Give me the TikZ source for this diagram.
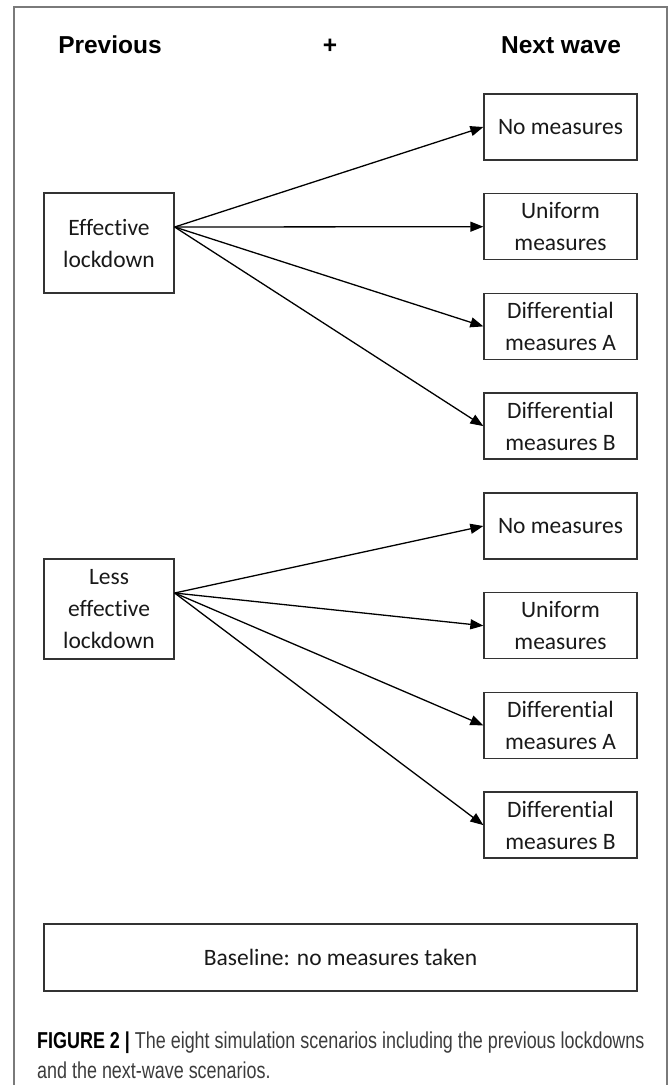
\documentclass[tikz,border=0pt]{standalone}
\usepackage{fontspec}
\setmainfont{Carlito}[Ligatures=NoCommon]
\newfontfamily\headfont{Liberation Sans}
\newfontfamily\capfont[FakeStretch=0.78]{Liberation Sans}
\usepackage{xcolor}
\usetikzlibrary{positioning, arrows.meta}
\definecolor{boxline}{HTML}{333333}
\definecolor{framegray}{HTML}{7A7A7A}
\definecolor{captext}{HTML}{3C3C3C}

\begin{document}
\begin{tikzpicture}[x=1pt, y=-1pt,
    box/.style={draw=boxline, line width=1.3pt, align=center, inner sep=0pt,
      font=\fontsize{23.5}{32}\selectfont, text=black!90},
    wavebox/.style={box, minimum width=153pt, minimum height=66pt},
    lockbox/.style={box, minimum width=130pt, minimum height=100pt},
    head/.style={font=\headfont\bfseries\fontsize{24.5}{28}\selectfont, anchor=base},
    arr/.style={-{Triangle[length=13pt, width=10pt]}, line width=1.3pt},
    caption/.style={font=\capfont\fontsize{23}{30}\selectfont, text=captext,
      anchor=base west, inner sep=0pt}]
        \useasboundingbox (0,0) rectangle (669,1085);
        \draw[framegray, line width=1.3pt] (14,1085) -- (14,7) -- (667,7) -- (667,1085);
        % column heads
        \node[head] (prev) at (110,53) {Previous};
        \node[head] (plus) at (330,53) {+};
        \node[head] (next) at (561,53) {Next wave};
        % previous lockdowns
        \node[lockbox] (eff) at (109,243) {Effective\\lockdown};
        \node[lockbox] (less) at (109,609) {Less\\effective\\lockdown};
        \coordinate (effout) at ([yshift=16pt]eff.east);
        \coordinate (lessout) at ([yshift=16pt]less.east);
        % next-wave scenarios
        \foreach \g/\ya in {e/127, l/526}
          \foreach \k/\txt [count=\i from 0] in {no/No measures, uni/{Uniform\\measures},
              difa/{Differential\\measures A}, difb/{Differential\\measures B}}
            \node[wavebox] (\g\k) at (560.5, {\ya+99.7*\i}) {\txt};
        \foreach \g/\src in {e/effout, l/lessout}
          \foreach \k in {no, uni, difa, difb}
            \draw[arr] (\src) -- (\g\k.west);
        \node[box, minimum width=593pt, minimum height=67pt] (base) at (340.5,957.5)
          {Baseline: no measures taken};
        % caption
        \node[caption] (cap1) at (37,1048)
          {\textbf{\color{black}FIGURE 2 |} The eight simulation scenarios including the previous lockdowns};
        \node[caption] (cap2) at (37,1078) {and the next-wave scenarios.};
    \end{tikzpicture}
\end{document}
